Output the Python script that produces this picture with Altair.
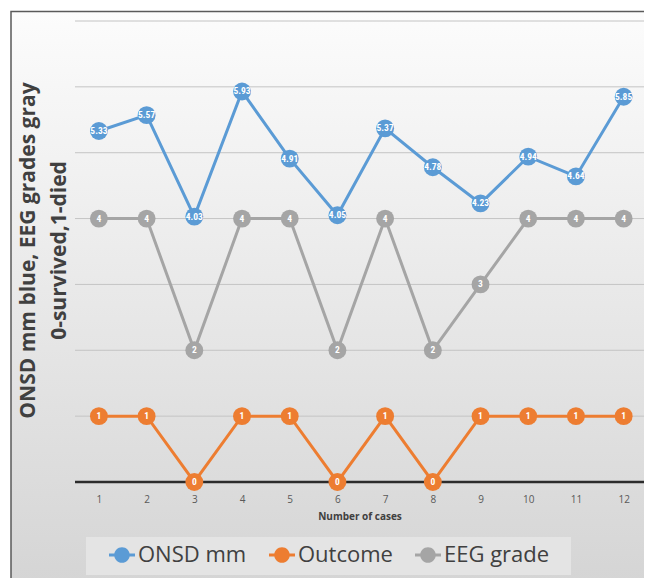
import altair as alt
import pandas as pd

cases = list(range(1, 13))
onsd = [5.33, 5.57, 4.03, 5.93, 4.91, 4.05, 5.37, 4.78, 4.23, 4.94, 4.64, 5.85]
outcome = [1, 1, 0, 1, 1, 0, 1, 0, 1, 1, 1, 1]
eeg = [4, 4, 2, 4, 4, 2, 4, 2, 3, 4, 4, 4]
series_names = ["ONSD mm", "Outcome", "EEG grade"]
colors = ["#5B9BD5", "#ED7D31", "#A5A5A5"]
grid_values = [1, 2, 3, 4, 5, 6, 7]
y_title = ["ONSD mm blue, EEG grades gray", "0-survived,1-died"]
x_title = "Number of cases"

rows = []
for name, vals in zip(series_names, [onsd, outcome, eeg]):
    for c, v in zip(cases, vals):
        rows.append({"series": name, "case": c, "value": v, "label": f"{v:g}"})
df = pd.DataFrame(rows)
grid_df = pd.DataFrame({"value": grid_values})
base_df = pd.DataFrame({"value": [0]})
one = pd.DataFrame({"a": [0]})

FONT = "Open Sans"

x_enc = alt.X(
    "case:O",
    scale=alt.Scale(type="point", padding=0.464, align=0.54),
    axis=alt.Axis(
        title=x_title, labelAngle=0, ticks=False, domain=False, grid=False,
        labelFont=FONT, labelFontSize=10, labelColor="#595959", labelPadding=12,
        titleFont=FONT, titleFontSize=10, titleFontWeight="bold",
        titleColor="#404040", titlePadding=7, zindex=1,
    ),
)
y_enc = alt.Y(
    "value:Q",
    scale=alt.Scale(domain=[0, 7], nice=False, zero=True),
    axis=alt.Axis(
        title=y_title, labels=False, ticks=False, domain=False, grid=False,
        titleX=-47, titleY=229, titleAlign="center", titleBaseline="middle",
        titleFont=FONT, titleFontSize=21, titleFontWeight="bold",
        titleColor="#404040", titleLineHeight=31, zindex=1,
    ),
)
color_scale = alt.Scale(domain=series_names, range=colors)

grad = alt.Gradient(
    gradient="linear",
    stops=[alt.GradientStop(color="#fcfcfc", offset=0),
           alt.GradientStop(color="#d3d3d3", offset=1)],
    x1=0, x2=0, y1=0, y2=1,
)

frame = alt.Chart(one).mark_rect(fill=grad, stroke="#5a5a5a", strokeWidth=1.5).encode(
    x=alt.value(-64), x2=alt.value(600), y=alt.value(-9.5), y2=alt.value(590)
)
legend_box = alt.Chart(one).mark_rect(fill="#e4e4e4").encode(
    x=alt.value(11), x2=alt.value(496), y=alt.value(516), y2=alt.value(554)
)

grid = alt.Chart(grid_df).mark_rule(color="#c4c4c4", strokeWidth=1).encode(y=y_enc)
baseline = alt.Chart(base_df).mark_rule(color="#2b2b2b", strokeWidth=2.5).encode(y=y_enc)

sym_path = ("M-1,-0.12H1V0.12H-1Z "
            "M-0.6,0A0.6,0.6 0 1,1 0.6,0A0.6,0.6 0 1,1 -0.6,0Z")
legend = alt.Legend(
    orient="none", legendX=34, legendY=521, direction="horizontal",
    title=None, symbolType=sym_path, symbolSize=676, symbolStrokeWidth=0,
    symbolOpacity=1, labelFont=FONT, labelFontSize=22, labelColor="#404040",
    columnPadding=22, labelOffset=3, padding=0, zindex=1,
)

lines = alt.Chart(df).mark_line(strokeWidth=3).encode(
    x=x_enc, y=y_enc,
    color=alt.Color("series:N", scale=color_scale),
    detail="series:N",
)

points = alt.Chart(df).mark_point(filled=True, size=320, opacity=1, shape="circle").encode(
    x=x_enc, y=y_enc,
    color=alt.Color("series:N", scale=color_scale, legend=legend),
)

texts = alt.Chart(df).mark_text(
    color="white", fontWeight="bold", fontSize=9.5,
    font="Liberation Sans Narrow, Roboto Condensed, Roboto",
    baseline="middle", align="center",
).encode(x=x_enc, y=y_enc, text="label:N")

chart = alt.layer(frame, legend_box, grid, baseline, lines, points, texts).properties(
    width=569, height=461,
    padding={"left": 67, "top": 13, "right": 0, "bottom": 96},
    autosize=alt.AutoSizeParams(type="none"),
).configure_view(strokeWidth=0).configure(background="#ffffff")

chart.save("out.html", embed_options={"renderer": "svg", "actions": False})
